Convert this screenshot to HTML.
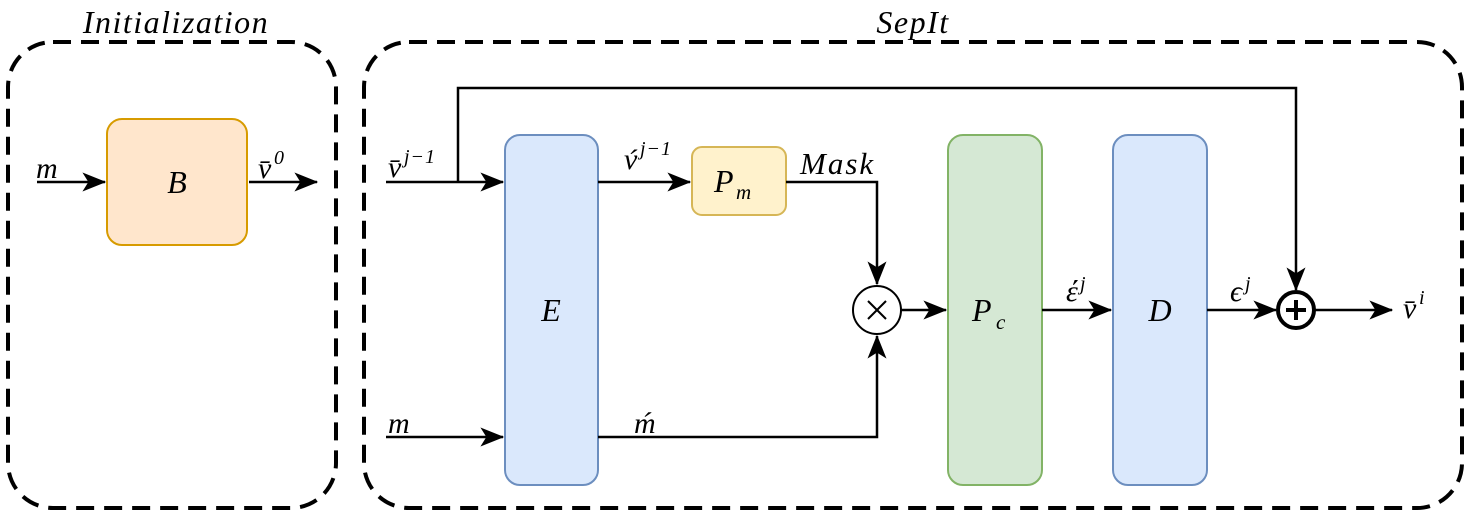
<!DOCTYPE html>
<html><head><meta charset="utf-8"><style>body{margin:0;background:#fff}svg{display:block}text{font-family:"Liberation Serif",serif;font-style:italic;fill:#000}</style></head><body>
<svg width="1471" height="517" viewBox="0 0 1471 517" xmlns="http://www.w3.org/2000/svg">
<defs>
<marker id="b" viewBox="0 0 20 16" markerWidth="24" markerHeight="19" refX="19" refY="8" orient="auto" markerUnits="userSpaceOnUse"><path d="M0,0 L20,8 L0,16 L5,8 Z"/></marker></defs>
<g fill="none" stroke="#000" stroke-width="4" stroke-dasharray="18,10">
<rect x="8" y="42" width="328" height="466" rx="45"/>
<rect x="364" y="42" width="1098" height="466" rx="45"/>
</g>
<text x="176" y="33" font-size="32" letter-spacing="1.5" text-anchor="middle">Initialization</text>
<text x="913" y="33" font-size="32" letter-spacing="1.5" text-anchor="middle">SepIt</text>
<rect x="107" y="119" width="140" height="126" rx="15" fill="#ffe6cc" stroke="#d79b00" stroke-width="2"/>
<rect x="505" y="135" width="93" height="350" rx="15" fill="#dae8fc" stroke="#6c8ebf" stroke-width="2"/>
<rect x="692" y="147" width="94" height="68" rx="10" fill="#fff2cc" stroke="#d6b656" stroke-width="2"/>
<rect x="948" y="135" width="94" height="350" rx="15" fill="#d5e8d4" stroke="#82b366" stroke-width="2"/>
<rect x="1113" y="135" width="94" height="350" rx="15" fill="#dae8fc" stroke="#6c8ebf" stroke-width="2"/>
<g fill="none" stroke="#000" stroke-width="2.5">
<line x1="37" y1="182" x2="105" y2="182" marker-end="url(#b)"/>
<line x1="249" y1="182" x2="317" y2="182" marker-end="url(#b)"/>
<line x1="386" y1="182" x2="503" y2="182" marker-end="url(#b)"/>
<line x1="386" y1="437" x2="503" y2="437" marker-end="url(#b)"/>
<polyline points="458,182 458,88 1296,88 1296,290" marker-end="url(#b)"/>
<line x1="598" y1="182" x2="690" y2="182" marker-end="url(#b)"/>
<polyline points="786,182 877,182 877,284" marker-end="url(#b)"/>
<polyline points="598,437 877,437 877,336" marker-end="url(#b)"/>
<line x1="901" y1="310" x2="946" y2="310" marker-end="url(#b)"/>
<line x1="1042" y1="310" x2="1111" y2="310" marker-end="url(#b)"/>
<line x1="1207" y1="310" x2="1276" y2="310" marker-end="url(#b)"/>
<line x1="1314" y1="310" x2="1392" y2="310" marker-end="url(#b)"/>
<circle cx="877" cy="310" r="24" fill="#fff" stroke-width="2"/>
<line x1="868" y1="301" x2="886" y2="319" stroke-width="2"/><line x1="886" y1="301" x2="868" y2="319" stroke-width="2"/>
<circle cx="1296" cy="310" r="18" fill="#fff" stroke-width="4"/>
<line x1="1286" y1="310" x2="1306" y2="310" stroke-width="4"/><line x1="1296" y1="300" x2="1296" y2="320" stroke-width="4"/>
</g>
<text x="177" y="193" font-size="32" text-anchor="middle">B</text>
<text x="551" y="321" font-size="32" text-anchor="middle">E</text>
<text x="714" y="192" font-size="32">P</text><text x="736" y="199" font-size="21">m</text>
<text x="972" y="321" font-size="32">P</text><text x="996" y="329" font-size="21">c</text>
<text x="1160" y="321" font-size="32" text-anchor="middle">D</text>
<text x="36" y="178" font-size="30">m</text>
<text x="258" y="178" font-size="30">v̄</text><text x="274" y="164" font-size="20">0</text>
<text x="388" y="177" font-size="30">v̄</text><text x="404" y="163" font-size="20" letter-spacing="1">j−1</text>
<text x="388" y="433" font-size="30">m</text>
<text x="624" y="169" font-size="30">v́</text><text x="640" y="155" font-size="20" letter-spacing="1">j−1</text>
<text x="800" y="174" font-size="31" letter-spacing="2">Mask</text>
<text x="634" y="433" font-size="30">ḿ</text>
<text x="1066" y="301" font-size="30">έ</text><text x="1080" y="290" font-size="20">j</text>
<text x="1230" y="301" font-size="30">ϵ</text><text x="1245" y="290" font-size="20">j</text>
<text x="1403" y="318" font-size="30">v̄</text><text x="1419" y="304" font-size="20">i</text>
</svg>
</body></html>
